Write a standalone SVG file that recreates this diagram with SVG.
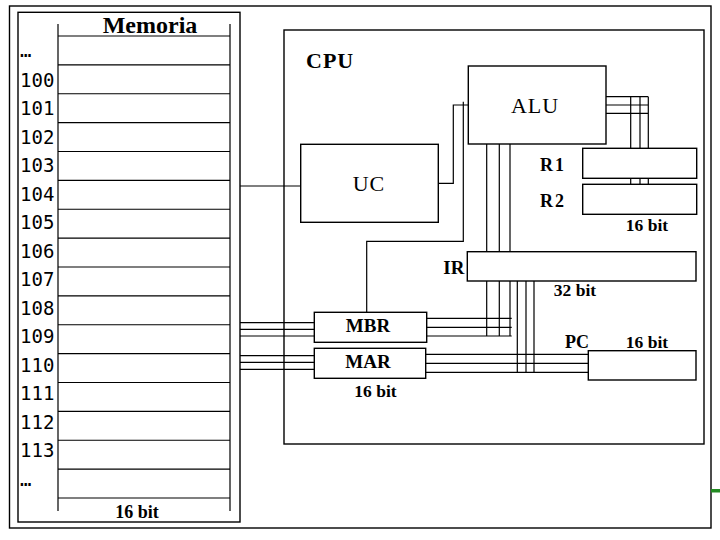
<svg xmlns="http://www.w3.org/2000/svg" width="720" height="540" viewBox="0 0 720 540">
<style>
.box{fill:none;stroke:#000;stroke-width:1.4}
.ln{fill:none;stroke:#000;stroke-width:1.2}
.mono{font-family:'DejaVu Sans Mono','Liberation Mono',monospace;font-size:19px;fill:#000}
.ser{font-family:'Liberation Serif','DejaVu Serif',serif;fill:#000}
.b{font-weight:bold}
</style>
<rect width="720" height="540" fill="#fff"/>
<rect id="frame" class="box" x="9.5" y="6" width="701.5" height="522"/>
<rect x="711" y="489" width="9" height="3.5" fill="#228b22"/>

<g id="memoria">
  <rect class="box" x="18" y="12.3" width="222" height="509.7"/>
  <text class="ser b" x="150" y="33" font-size="24" text-anchor="middle">Memoria</text>
  <path class="ln" d="M58,24V511M230,24V511
  M58,36H230M58,64.9H230M58,93.75H230M58,122.6H230M58,151.5H230M58,180.4H230M58,209.25H230M58,238.1H230M58,267H230M58,295.9H230M58,324.75H230M58,353.6H230M58,382.5H230M58,411.4H230M58,440.25H230M58,469.1H230M58,498H230"/>
  <text class="mono" x="20" y="56.5">…</text>
  <text class="mono" x="20" y="86.5">100</text>
  <text class="mono" x="20" y="115">101</text>
  <text class="mono" x="20" y="143.5">102</text>
  <text class="mono" x="20" y="172">103</text>
  <text class="mono" x="20" y="200.5">104</text>
  <text class="mono" x="20" y="229">105</text>
  <text class="mono" x="20" y="257.5">106</text>
  <text class="mono" x="20" y="286">107</text>
  <text class="mono" x="20" y="314.5">108</text>
  <text class="mono" x="20" y="343">109</text>
  <text class="mono" x="20" y="371.5">110</text>
  <text class="mono" x="20" y="400">111</text>
  <text class="mono" x="20" y="428.5">112</text>
  <text class="mono" x="20" y="457">113</text>
  <text class="mono" x="20" y="485.5">…</text>
  <text class="ser b" x="137" y="518" font-size="18" text-anchor="middle">16 bit</text>
</g>

<g id="cpu">
  <rect class="box" x="284" y="30" width="420" height="414"/>
  <text class="ser b" x="306" y="68" font-size="22" letter-spacing="1">CPU</text>
</g>

<g id="connectors">
  <path class="ln" d="M240,186H301"/>
  <path class="ln" d="M438.3,183.3H453.3V105H468.3"/>
  <path class="ln" d="M463.3,101.7V241.3H366.7V312.3"/>
  <path class="ln" d="M486.7,144V251.7M499.3,144V251.7M510,144V251.7"/>
  <path class="ln" d="M606,96.7H648.3M606,105H648.3M606,113.3H648.3M630.7,96.7V148.3M640,96.7V148.3M648.3,96.7V148.3M630.7,178.3V184.3M640,178.3V184.3M648.3,178.3V184.3"/>
  <path class="ln" d="M486.7,281V336M499.3,281V336M510,281V336M426.7,318.3H511.7M426.7,327.3H511.7M426.7,336H511.7"/>
  <path class="ln" d="M517.3,281V372.3M526,281V372.3M534,281V372.3M425.7,354.3H588.3M425.7,363.3H588.3M425.7,372.3H588.3"/>
  <path class="ln" d="M240,322.7H314.3M240,329.3H314.3M240,336H314.3"/>
  <path class="ln" d="M240,355.7H314.3M240,362.3H314.3M240,369.3H314.3"/>
</g>

<g id="alu">
  <rect class="box" x="468.3" y="66" width="137.7" height="78" fill="#fff"/>
  <text class="ser" x="535" y="112.7" font-size="22" letter-spacing="1" text-anchor="middle">ALU</text>
</g>
<g id="uc">
  <rect class="box" x="300.7" y="144.3" width="137.6" height="78"/>
  <text class="ser" x="369" y="190.7" font-size="22" letter-spacing="1" text-anchor="middle">UC</text>
</g>
<g id="r1">
  <rect class="box" x="582.7" y="148.3" width="114" height="30"/>
  <text class="ser b" x="540" y="170.7" font-size="18" letter-spacing="2">R1</text>
</g>
<g id="r2">
  <rect class="box" x="582.7" y="184.3" width="114" height="30"/>
  <text class="ser b" x="540" y="206.7" font-size="18" letter-spacing="2">R2</text>
  <text class="ser b" x="647" y="230.7" font-size="17.5" text-anchor="middle">16 bit</text>
</g>
<g id="ir">
  <rect class="box" x="467.3" y="251.7" width="228.7" height="29.3"/>
  <text class="ser b" x="443.3" y="274" font-size="19">IR</text>
  <text class="ser b" x="575" y="296" font-size="17.5" text-anchor="middle">32 bit</text>
</g>
<g id="mbr">
  <rect class="box" x="314.3" y="312.3" width="112.4" height="30"/>
  <text class="ser b" x="368" y="331.7" font-size="19" text-anchor="middle">MBR</text>
</g>
<g id="mar">
  <rect class="box" x="314.3" y="348.3" width="111.4" height="30"/>
  <text class="ser b" x="368" y="367.7" font-size="19" text-anchor="middle">MAR</text>
  <text class="ser b" x="375.5" y="396.7" font-size="17.5" text-anchor="middle">16 bit</text>
</g>
<g id="pc">
  <rect class="box" x="588.3" y="350.7" width="107.7" height="29.3"/>
  <text class="ser b" x="565" y="348.3" font-size="18">PC</text>
  <text class="ser b" x="647" y="348.3" font-size="17.5" text-anchor="middle">16 bit</text>
</g>
</svg>
